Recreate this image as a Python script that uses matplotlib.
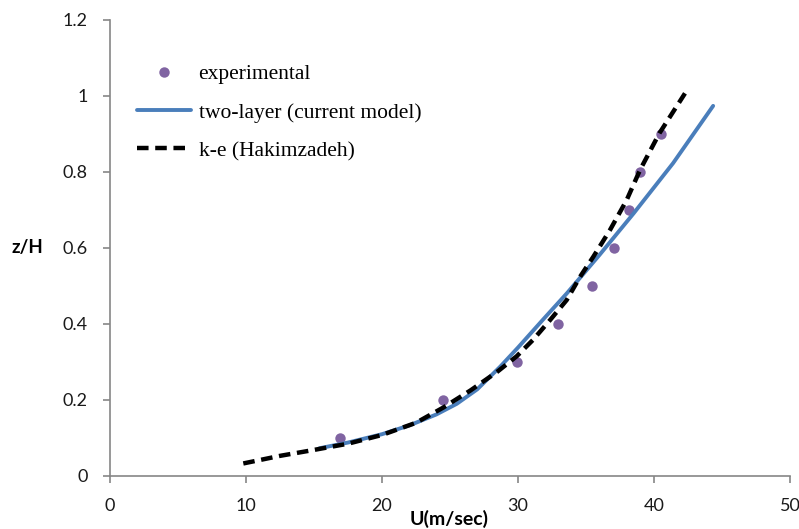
"""Velocity profile z/H vs U: experiment, two-layer model, k-e (Hakimzadeh)."""
import matplotlib
matplotlib.use("Agg")
import matplotlib.pyplot as plt

# experimental points
exp_u = [16.9, 24.45, 29.95, 32.95, 35.45, 37.05, 38.15, 38.95, 40.55]
exp_z = [0.10, 0.20, 0.30, 0.40, 0.50, 0.60, 0.70, 0.80, 0.90]

# two-layer (current model)
two_u = [15.4, 17.5, 20.0, 22.0, 24.0, 25.5, 27.0, 28.7, 30.0, 31.8, 33.6, 36.0, 38.5, 41.4, 44.35]
two_z = [0.073, 0.088, 0.110, 0.133, 0.162, 0.190, 0.228, 0.288, 0.338, 0.410, 0.481, 0.582,
         0.691, 0.823, 0.974]

# k-e (Hakimzadeh)
ke_u = [9.8, 12.5, 14.9, 17.5, 20.0, 22.5, 24.5, 26.5, 28.5, 29.9, 31.1, 32.35,
        33.58, 34.56, 35.54, 36.76, 37.99, 38.97, 40.4, 42.28]
ke_z = [0.033, 0.053, 0.068, 0.085, 0.108, 0.140, 0.180, 0.225, 0.275, 0.315, 0.358, 0.410,
        0.463, 0.524, 0.577, 0.647, 0.726, 0.805, 0.902, 1.007]

TICK_FONT = ["Lato", "DejaVu Sans"]

fig = plt.figure(figsize=(7.99, 5.29), dpi=100)
ax = fig.add_axes([0.1377, 0.1002, 0.851, 0.862])

ax.plot(exp_u, exp_z, "o", color="#8064A2", ms=7.5, mec="none", label="experimental", zorder=2)
ax.plot(two_u, two_z, "-", color="#4A7EBB", lw=2.8, label="two-layer (current model)",
        zorder=3, solid_capstyle="round", solid_joinstyle="round")
ax.plot(ke_u, ke_z, "--", color="black", lw=3.2, dashes=(2.6, 1.5), label="k-e (Hakimzadeh)",
        zorder=4)

ax.set_xlim(0, 50)
ax.set_ylim(0, 1.2)
ax.set_xticks([0, 10, 20, 30, 40, 50])
ax.set_yticks([0, 0.2, 0.4, 0.6, 0.8, 1.0, 1.2])
ax.set_yticklabels(["0", "0.2", "0.4", "0.6", "0.8", "1", "1.2"])

for s in ["top", "right"]:
    ax.spines[s].set_visible(False)
for s in ["left", "bottom"]:
    ax.spines[s].set_color("#868686")
    ax.spines[s].set_linewidth(1.2)
ax.tick_params(axis="both", direction="out", length=5, width=1.2, color="#868686",
               labelsize=13, labelcolor="#1a1a1a")
ax.tick_params(axis="y", pad=11)
ax.tick_params(axis="x", pad=11)
for lab in ax.get_xticklabels() + ax.get_yticklabels():
    lab.set_family(TICK_FONT)

fig.text(12 / 799, 1 - 248 / 529, "z/H", fontsize=13.5, fontweight="bold",
         family=TICK_FONT, ha="left", va="center")
fig.text(449 / 799, 1 - 519 / 529, "U(m/sec)", fontsize=14, fontweight="bold",
         family=TICK_FONT, ha="center", va="center")

ax.legend(loc="upper left", bbox_to_anchor=(0.04, 0.903), frameon=False,
          prop={"family": ["Liberation Serif"], "size": 15.5}, handlelength=2.5,
          handletextpad=0.35, labelspacing=0.85, borderpad=0, borderaxespad=0)

fig.savefig("out.png", dpi=100)
